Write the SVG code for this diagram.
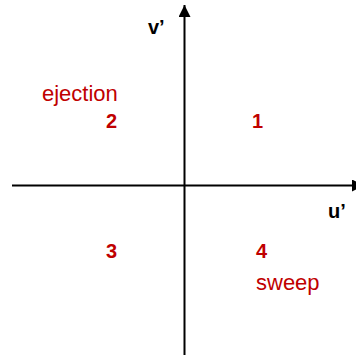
<svg xmlns="http://www.w3.org/2000/svg" width="356" height="355" viewBox="0 0 356 355">
<defs>
<style>
.ax{stroke:#000;stroke-width:2;fill:none}
.lbl{font-family:"Liberation Sans",Arial,sans-serif;font-size:22px;fill:#c00000}
.num{font-family:"Liberation Sans",Arial,sans-serif;font-size:20px;font-weight:bold;fill:#c00000}
.axl{font-family:"Liberation Sans",Arial,sans-serif;font-size:20px;font-weight:bold;fill:#000}
</style>
<marker id="ah" viewBox="0 0 12 12" refX="12" refY="6" markerWidth="6" markerHeight="6" orient="auto" markerUnits="strokeWidth">
<path d="M0,0 L12,6 L0,12 z" fill="#000"/>
</marker>
</defs>
<rect width="356" height="355" fill="#fff"/>
<g id="connectors">
<line class="ax" x1="184.5" y1="355" x2="184.5" y2="5" marker-end="url(#ah)"/>
<line class="ax" x1="12" y1="185.5" x2="364" y2="185.5" marker-end="url(#ah)"/>
</g>
<g id="axis-v"><text class="axl" x="148" y="34">v’</text></g>
<g id="axis-u"><text class="axl" x="328" y="218">u’</text></g>
<g id="ejection"><text class="lbl" x="42" y="101">ejection</text></g>
<g id="q2"><text class="num" x="106" y="128">2</text></g>
<g id="q1"><text class="num" x="252" y="128">1</text></g>
<g id="q3"><text class="num" x="106" y="258">3</text></g>
<g id="q4"><text class="num" x="256" y="258">4</text></g>
<g id="sweep"><text class="lbl" x="256" y="290">sweep</text></g>
</svg>
